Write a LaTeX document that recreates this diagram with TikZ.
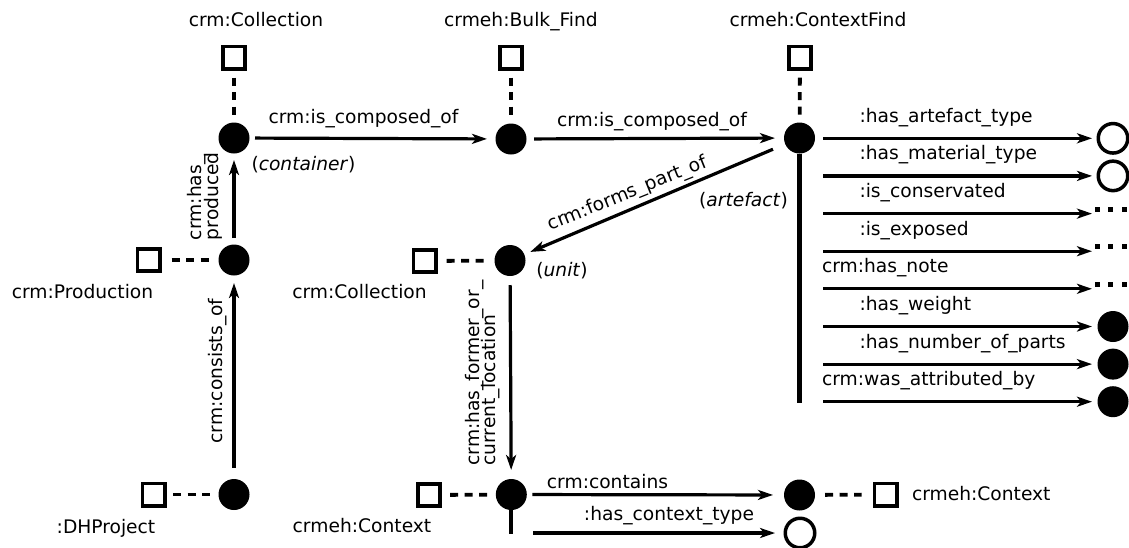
\documentclass[tikz,border=0pt]{standalone}
\usepackage{fontspec}
\setmainfont{DejaVu Sans}
\usetikzlibrary{arrows.meta}
\newcommand{\labelfont}{\fontsize{18.67}{16.6}\selectfont}
\begin{document}
\lineskiplimit=-30pt\relax
\begin{tikzpicture}[x=1pt, y=-1pt,
  font=\labelfont,
  every node/.style={inner sep=0pt, outer sep=0pt},
  inst/.style={circle, fill=black, minimum size=31pt},
  lit/.style={circle, draw=black, line width=3.5pt, minimum size=29.5pt},
  cls/.style={rectangle, draw=black, line width=3.8pt, minimum size=22.2pt},
  typeof/.style={line width=3.8pt, dash pattern=on 8pt off 6.5pt},
  arr/.style={line width=3.2pt, -{Stealth[length=15pt,width=10pt,inset=4pt]}},
  bar/.style={line width=4.3pt},
  lbl/.style={anchor=base},
  lblw/.style={anchor=base west},
  vlbl/.style={rotate=90, anchor=south west, align=left}
]
\fill[white] (0,0) rectangle (1129,547);
\useasboundingbox (0,0) rectangle (1129,547);

% classes (squares) and instances (discs)
\node[cls]  (clsA)     at (234,57.5)    {};
\node[inst] (container) at (234,138)    {};
\node[cls]  (clsB)     at (511,57.5)    {};
\node[inst] (bulk)     at (511,139)     {};
\node[cls]  (clsC)     at (800,57.5)    {};
\node[inst] (artefact) at (799.5,138)   {};
\node[inst] (prod)     at (234,260)     {};
\node[cls]  (clsProd)  at (148.5,260)   {};
\node[inst] (unit)     at (510,260.5)   {};
\node[cls]  (clsColl)  at (424.5,261)   {};
\node[inst] (project)  at (234,494.5)   {};
\node[cls]  (clsProj)  at (153.5,494.5) {};
\node[inst] (context)  at (511.3,494.5) {};
\node[cls]  (clsCtx)   at (429,495)     {};
\node[inst] (subctx)   at (799.5,495)   {};
\node[cls]  (clsSub)   at (885.5,494.5) {};
\node[lit]  (ctxtype)  at (800,533)     {};

% class names
\node[lbl] (nA)    at (256,26)     {crm:Collection};
\node[lbl] (nB)    at (521,26)     {crmeh:Bulk\_Find};
\node[lbl] (nC)    at (818,26)     {crmeh:ContextFind};
\node[lbl] (nProd) at (82.5,298.5) {crm:Production};
\node[lbl] (nColl) at (359.5,298.5){crm:Collection};
\node[lbl] (nProj) at (106,533)    {:DHProject};
\node[lbl] (nCtx)  at (362,532.5)  {crmeh:Context};
\node[lblw] (nSub) at (912,500.3)  {crmeh:Context};

% instance roles
\node[lbl] (rCont) at (303.5,170.5) {(\textit{container})};
\node[lbl] (rArt)  at (743.5,206)   {(\textit{artefact})};
\node[lbl] (rUnit) at (562,276)     {(\textit{unit})};

% rdf:type links
\draw[typeof, shorten <=9pt,  shorten >=7.5pt] (clsA) -- (container);
\draw[typeof, shorten <=9pt,  shorten >=8.5pt] (clsB) -- (bulk);
\draw[typeof, shorten <=9pt,  shorten >=7.5pt] (clsC) -- (artefact);
\draw[typeof, shorten <=12pt, shorten >=8.5pt] (clsProd) -- (prod);
\draw[typeof, shorten <=11pt, shorten >=7.5pt] (clsColl) -- (unit);
\draw[typeof, shorten <=8.5pt,shorten >=8.5pt] (clsProj) -- (project);
\draw[typeof, shorten <=10pt, shorten >=7pt]   (clsCtx) -- (context);
\draw[typeof, shorten <=10pt, shorten >=12.7pt](subctx) -- (clsSub);

% property links
\draw[arr, shorten <=5.5pt, shorten >=8.5pt] (container) -- (bulk);
\node[lbl] (pComp1) at (363.5,123) {crm:is\_composed\_of};
\draw[arr, shorten <=7.5pt, shorten >=9pt] (bulk) -- (artefact);
\node[lbl] (pComp2) at (652,126.5) {crm:is\_composed\_of};
\draw[arr, shorten <=13.3pt, shorten >=6.5pt] (artefact) -- (unit);
\node[rotate=22, anchor=base] (pPart) at (629.5,198.7) {crm:forms\_part\_of};
\draw[arr, shorten <=6.5pt, shorten >=6.5pt] (prod) -- (container);
\node[vlbl] (pProd) at (222.3,240) {crm:has\_\\produced};
\draw[arr, shorten <=11.5pt, shorten >=7.5pt] (project) -- (prod);
\node[rotate=90, anchor=base west] (pCons) at (222.5,443.3) {crm:consists\_of};
\draw[arr, shorten <=9pt, shorten >=9pt] (unit) -- (context);
\node[vlbl] (pLoc) at (500.3,465.5) {crm:has\_former\_or\_\\current\_location};
\draw[arr, shorten <=5.5pt, shorten >=11pt] (context) -- (subctx);
\node[lbl] (pCont) at (607.5,488.3) {crm:contains};

% stubs carrying further properties
\coordinate (ctxEnd) at (511.3,534);
\draw[bar] (context) -- (ctxEnd);
\coordinate (ctS) at (533,533);
\draw[arr, shorten >=10.2pt] (ctS) -- (ctxtype);
\node[lbl] (pCType) at (669,520.5) {:has\_context\_type};

\coordinate (artEnd) at (799.5,403.3);
\draw[bar] (artefact) -- (artEnd);

% artefact properties
\coordinate (s0) at (823.3,138.3);
\coordinate (s1) at (823.3,175.9);
\coordinate (s2) at (823.3,213.6);
\coordinate (s3) at (823.3,251.2);
\coordinate (s4) at (823.3,288.8);
\coordinate (s5) at (823.3,326.5);
\coordinate (s6) at (823.3,364.1);
\coordinate (s7) at (823.3,401.7);
\node[lit]  (v0) at (1113,138.3) {};
\node[lit]  (v1) at (1113,175.9) {};
\coordinate (v2) at (1092,213.6);
\coordinate (v3) at (1092,251.2);
\coordinate (v4) at (1092,288.8);
\node[inst] (v5) at (1113,326.5) {};
\node[inst] (v6) at (1113,364.1) {};
\node[inst] (v7) at (1113,401.7) {};

\draw[arr, shorten >=6.2pt] (s0) -- (v0);
\draw[arr, shorten >=6.2pt] (s1) -- (v1);
\draw[arr] (s2) -- (v2);
\draw[arr] (s3) -- (v3);
\draw[arr] (s4) -- (v4);
\draw[arr, shorten >=5.5pt] (s5) -- (v5);
\draw[arr, shorten >=5.5pt] (s6) -- (v6);
\draw[arr, shorten >=5.5pt] (s7) -- (v7);

% open-ended values
\foreach \y in {213.6,251.2,288.8}
  \foreach \x in {1097.6,1110.8,1124.2}
    \fill (\x-2.5,\y-7.1) rectangle +(5,5);

\node[lblw] (q0) at (859.5,122.3) {:has\_artefact\_type};
\node[lblw] (q1) at (859.5,159.9) {:has\_material\_type};
\node[lblw] (q2) at (859.5,197.6) {:is\_conservated};
\node[lblw] (q3) at (859.5,235.2) {:is\_exposed};
\node[lblw] (q4) at (822,272.8)   {crm:has\_note};
\node[lblw] (q5) at (859.5,310.5) {:has\_weight};
\node[lblw] (q6) at (859.5,348.1) {:has\_number\_of\_parts};
\node[lblw] (q7) at (822,385.7)   {crm:was\_attributed\_by};
\end{tikzpicture}
\end{document}
